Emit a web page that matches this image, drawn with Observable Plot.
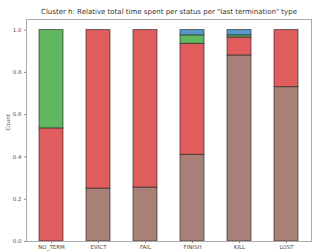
<!DOCTYPE html>
<html>
<head>
<meta charset="utf-8">
<script src="https://cdn.jsdelivr.net/npm/d3@7"></script>
<script src="https://cdn.jsdelivr.net/npm/@observablehq/plot@0.6"></script>
<style>
  body { margin: 0; background: #fff; font-family: "DejaVu Sans", sans-serif; }
  #title { width: 322px; height: 16px; box-sizing: border-box; padding-top: 9px; padding-left: 16px;
           font-size: 7px; line-height: 7px; text-align: center; color: #333; white-space: nowrap; }
</style>
</head>
<body>
<div id="title">Cluster h: Relative total time spent per status per "last termination" type</div>
<div id="chart"></div>
<script>
const categories = ["NO_TERM", "EVICT", "FAIL", "FINISH", "KILL", "LOST"];
const seriesNames = ["status 1", "status 2", "status 3", "status 4"];
const series1 = [0, 0.25, 0.255, 0.41, 0.88, 0.73];
const series2 = [0.535, 0.75, 0.745, 0.525, 0.085, 0.27];
const series3 = [0.465, 0, 0, 0.04, 0.01, 0];
const series4 = [0, 0, 0, 0.025, 0.025, 0];
const seriesColors = ["#a98078", "#e05d5e", "#61b861", "#5799c7"];
const yTicks = [0, 0.2, 0.4, 0.6, 0.8, 1.0];

const shares = [series1, series2, series3, series4];
const rows = [];
categories.forEach((c, i) => {
  seriesNames.forEach((s, j) => {
    if (shares[j][i] > 0) rows.push({cat: c, series: s, value: shares[j][i]});
  });
});

const chart = Plot.plot({
  width: 322,
  height: 235,
  marginTop: 3,
  marginLeft: 26,
  marginRight: 11,
  marginBottom: 10,
  style: {fontFamily: "DejaVu Sans, sans-serif", fontSize: "5.5px", color: "#444", background: "#fff"},
  x: {domain: categories, paddingInner: 0.49, paddingOuter: 0.275, label: null},
  y: {domain: [0, 1.05], label: null},
  color: {type: "ordinal", domain: seriesNames, range: seriesColors},
  marks: [
    Plot.barY(rows, Plot.stackY({order: seriesNames}, {
      x: "cat", y: "value", z: "series", fill: "series",
      stroke: "#222", strokeOpacity: 0.7, strokeWidth: 0.9
    })),
    Plot.frame({stroke: "#aaa", strokeWidth: 1}),
    Plot.axisX({tickSize: 2, tickPadding: 1.5, stroke: "#888", fill: "#444", fontSize: 5.5}),
    Plot.axisY({ticks: yTicks, tickFormat: d3.format(".1f"), tickSize: 2, tickPadding: 3, stroke: "#888", fill: "#555", fontSize: 5.5, label: null}),
    Plot.text(["Count"], {frameAnchor: "left", dx: -18, rotate: -90, fontSize: 5.5, fill: "#555"})
  ]
});
document.getElementById("chart").appendChild(chart);
</script>
</body>
</html>
